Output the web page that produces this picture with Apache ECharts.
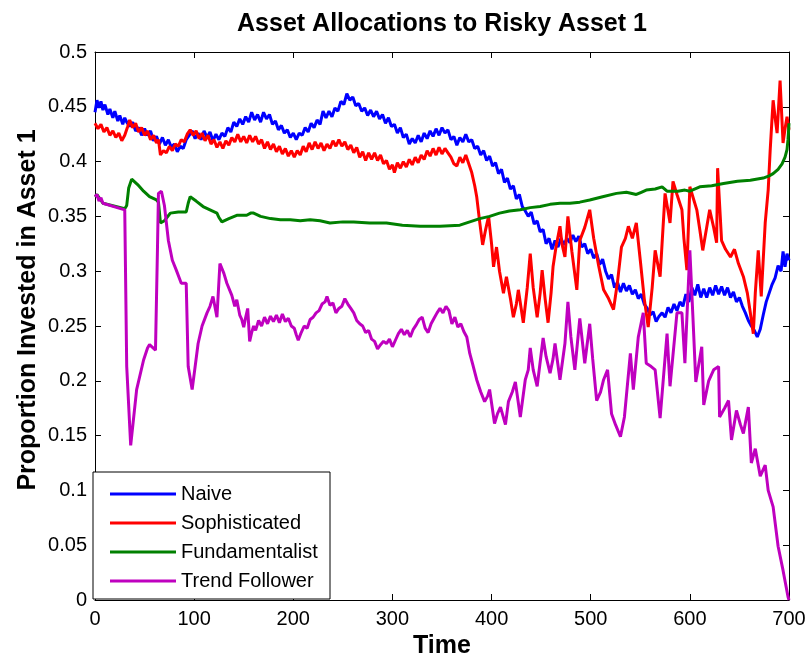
<!DOCTYPE html>
<html>
<head>
<meta charset="utf-8">
<script src="https://cdn.jsdelivr.net/npm/echarts@6/dist/echarts.min.js"></script>
<style>
html,body{margin:0;padding:0;background:#fff;}
#chart{width:808px;height:654px;}
</style>
</head>
<body>
<div id="chart"></div>
<script>
const seriesNames = ['Naive', 'Sophisticated', 'Fundamentalist', 'Trend Follower'];
const xTicks = [0, 100, 200, 300, 400, 500, 600, 700];
const yTicks = [0, 0.05, 0.1, 0.15, 0.2, 0.25, 0.3, 0.35, 0.4, 0.45, 0.5];

const naive = [[0,0.445],[2,0.456],[4,0.449],[6,0.455],[8,0.447],[10,0.452],[13,0.443],[15,0.448],[18,0.44],[20,0.446],[23,0.437],[25,0.442],[28,0.434],[30,0.44],[32,0.436],[35,0.432],[38,0.436],[41,0.428],[44,0.431],[47,0.424],[50,0.43],[53,0.424],[56,0.428],[59,0.419],[62,0.423],[65,0.416],[68,0.422],[71,0.415],[74,0.42],[77,0.413],[80,0.416],[83,0.409],[86,0.414],[89,0.412],[92,0.42],[95,0.424],[98,0.428],[101,0.421],[104,0.426],[107,0.42],[110,0.428],[113,0.422],[116,0.427],[119,0.419],[122,0.425],[125,0.42],[128,0.426],[131,0.423],[134,0.431],[137,0.427],[140,0.436],[143,0.432],[146,0.439],[149,0.434],[152,0.441],[155,0.436],[158,0.445],[161,0.438],[164,0.443],[167,0.436],[170,0.445],[173,0.439],[176,0.443],[179,0.434],[182,0.437],[185,0.429],[188,0.433],[191,0.426],[194,0.429],[197,0.422],[200,0.426],[203,0.42],[206,0.426],[209,0.424],[212,0.431],[215,0.427],[218,0.435],[221,0.431],[224,0.438],[227,0.434],[230,0.446],[233,0.44],[236,0.446],[239,0.441],[242,0.449],[245,0.446],[248,0.455],[251,0.452],[254,0.462],[257,0.456],[260,0.459],[263,0.451],[266,0.453],[269,0.446],[272,0.449],[275,0.442],[278,0.447],[281,0.441],[284,0.446],[287,0.439],[290,0.443],[293,0.435],[296,0.44],[299,0.432],[302,0.434],[305,0.426],[308,0.431],[311,0.422],[314,0.425],[317,0.416],[320,0.421],[323,0.417],[326,0.424],[329,0.418],[332,0.426],[335,0.421],[338,0.428],[341,0.423],[344,0.43],[347,0.424],[350,0.431],[353,0.426],[356,0.429],[359,0.42],[362,0.423],[365,0.415],[368,0.422],[371,0.418],[374,0.425],[377,0.418],[380,0.42],[383,0.412],[386,0.414],[389,0.406],[392,0.41],[395,0.401],[398,0.405],[401,0.396],[404,0.399],[407,0.389],[410,0.393],[413,0.381],[416,0.385],[419,0.375],[422,0.378],[425,0.366],[428,0.37],[431,0.359],[434,0.355],[437,0.35],[440,0.354],[443,0.343],[446,0.346],[449,0.336],[452,0.338],[455,0.325],[458,0.33],[461,0.32],[464,0.328],[467,0.322],[470,0.33],[473,0.324],[476,0.33],[479,0.326],[482,0.333],[485,0.327],[488,0.332],[491,0.322],[494,0.325],[497,0.316],[500,0.32],[503,0.312],[506,0.316],[509,0.306],[512,0.311],[515,0.3],[518,0.293],[521,0.297],[524,0.285],[527,0.29],[530,0.281],[533,0.289],[536,0.282],[539,0.287],[542,0.279],[545,0.283],[548,0.275],[551,0.279],[554,0.27],[557,0.266],[560,0.26],[563,0.263],[566,0.254],[569,0.259],[572,0.262],[575,0.258],[578,0.267],[581,0.262],[584,0.27],[587,0.264],[590,0.272],[593,0.268],[596,0.279],[599,0.272],[602,0.285],[605,0.278],[608,0.288],[611,0.276],[614,0.284],[617,0.276],[620,0.285],[623,0.278],[626,0.287],[629,0.279],[632,0.286],[635,0.278],[638,0.285],[641,0.276],[644,0.281],[647,0.272],[650,0.276],[653,0.268],[656,0.262],[659,0.255],[662,0.25],[665,0.246],[668,0.24],[671,0.247],[674,0.26],[677,0.272],[680,0.28],[683,0.288],[686,0.294],[689,0.305],[692,0.3],[694,0.318],[696,0.304],[698,0.316],[700,0.31]];

const sophisticated = [[0,0.435],[3,0.43],[6,0.434],[9,0.427],[12,0.431],[15,0.424],[18,0.428],[21,0.422],[24,0.426],[27,0.419],[30,0.424],[33,0.432],[35,0.438],[38,0.431],[41,0.435],[44,0.427],[47,0.431],[50,0.424],[53,0.428],[56,0.42],[59,0.424],[62,0.417],[64,0.42],[66,0.406],[69,0.41],[72,0.408],[75,0.414],[78,0.41],[81,0.416],[84,0.414],[87,0.42],[90,0.418],[93,0.425],[96,0.429],[99,0.424],[102,0.428],[105,0.421],[108,0.426],[111,0.419],[114,0.424],[117,0.416],[120,0.42],[123,0.413],[126,0.418],[129,0.412],[132,0.419],[135,0.415],[138,0.422],[141,0.418],[144,0.425],[147,0.418],[150,0.423],[153,0.417],[156,0.424],[159,0.418],[162,0.423],[165,0.416],[168,0.42],[171,0.412],[174,0.418],[177,0.411],[180,0.416],[183,0.409],[186,0.414],[189,0.407],[192,0.412],[195,0.405],[198,0.41],[201,0.404],[204,0.41],[207,0.406],[210,0.414],[213,0.409],[216,0.417],[219,0.411],[222,0.418],[225,0.412],[228,0.417],[231,0.41],[234,0.416],[237,0.412],[240,0.419],[243,0.414],[246,0.42],[249,0.414],[252,0.418],[255,0.411],[258,0.415],[261,0.408],[264,0.413],[267,0.404],[270,0.409],[273,0.401],[276,0.408],[279,0.402],[282,0.408],[285,0.401],[288,0.406],[291,0.398],[294,0.401],[297,0.393],[300,0.397],[302,0.39],[305,0.399],[308,0.394],[311,0.4],[314,0.395],[317,0.402],[320,0.397],[323,0.404],[326,0.399],[329,0.406],[332,0.402],[335,0.41],[338,0.405],[341,0.412],[344,0.406],[347,0.413],[350,0.407],[353,0.412],[356,0.408],[359,0.404],[362,0.398],[365,0.396],[368,0.404],[371,0.399],[374,0.406],[377,0.398],[380,0.39],[383,0.378],[385,0.368],[388,0.345],[391,0.324],[394,0.338],[397,0.35],[400,0.325],[402,0.304],[405,0.322],[408,0.3],[412,0.28],[415,0.295],[419,0.275],[422,0.258],[425,0.27],[427,0.283],[430,0.265],[432,0.253],[436,0.285],[439,0.316],[442,0.285],[446,0.258],[449,0.28],[451,0.301],[454,0.275],[457,0.253],[460,0.28],[462,0.304],[465,0.322],[469,0.341],[471,0.325],[474,0.313],[477,0.35],[481,0.318],[486,0.283],[489,0.328],[494,0.34],[499,0.356],[503,0.33],[508,0.305],[513,0.283],[518,0.275],[523,0.265],[527,0.29],[531,0.322],[535,0.33],[538,0.341],[542,0.33],[546,0.344],[550,0.31],[554,0.275],[558,0.249],[562,0.285],[565,0.319],[570,0.295],[575,0.371],[578,0.355],[580,0.344],[583,0.382],[587,0.37],[592,0.356],[594,0.33],[597,0.301],[600,0.377],[604,0.365],[607,0.356],[610,0.338],[613,0.319],[617,0.34],[620,0.356],[624,0.34],[627,0.326],[628,0.394],[632,0.328],[636,0.32],[641,0.313],[645,0.32],[649,0.307],[654,0.295],[658,0.28],[661,0.262],[664,0.243],[666,0.28],[669,0.319],[672,0.277],[676,0.344],[679,0.374],[681,0.41],[683,0.441],[684,0.456],[686,0.44],[688,0.426],[691,0.474],[694,0.417],[696,0.43],[698,0.441],[700,0.429]];

const fundamentalist = [[0,0.368],[2,0.37],[8,0.362],[30,0.357],[32,0.36],[34,0.376],[37,0.384],[43,0.379],[49,0.373],[55,0.368],[62,0.365],[64,0.363],[66,0.344],[70,0.346],[76,0.353],[84,0.354],[92,0.354],[94,0.362],[96,0.368],[102,0.364],[109,0.359],[116,0.356],[123,0.353],[125,0.349],[128,0.345],[135,0.348],[143,0.351],[153,0.351],[157,0.353],[160,0.353],[167,0.35],[177,0.348],[187,0.347],[197,0.347],[207,0.346],[217,0.347],[227,0.346],[237,0.344],[250,0.345],[261,0.345],[277,0.344],[294,0.344],[310,0.342],[328,0.341],[348,0.341],[368,0.342],[378,0.345],[388,0.348],[398,0.35],[408,0.353],[418,0.355],[429,0.356],[439,0.358],[449,0.359],[459,0.361],[469,0.362],[479,0.362],[489,0.363],[499,0.365],[512,0.368],[526,0.371],[536,0.372],[546,0.37],[551,0.372],[556,0.374],[565,0.375],[572,0.377],[577,0.373],[588,0.373],[595,0.374],[600,0.373],[610,0.377],[622,0.378],[634,0.38],[648,0.382],[661,0.383],[674,0.385],[680,0.387],[684,0.389],[689,0.393],[693,0.398],[696,0.404],[698,0.411],[699,0.42],[700,0.435]];

const trendFollower = [[0,0.368],[2,0.37],[4,0.364],[6,0.367],[8,0.362],[30,0.356],[32,0.213],[36,0.141],[42,0.192],[49,0.219],[53,0.23],[55,0.233],[61,0.228],[63,0.32],[64,0.371],[67,0.373],[70,0.36],[74,0.328],[78,0.31],[82,0.301],[87,0.289],[92,0.289],[94,0.213],[98,0.192],[104,0.234],[108,0.25],[113,0.262],[116,0.268],[119,0.277],[123,0.258],[126,0.307],[130,0.298],[133,0.289],[138,0.278],[141,0.268],[143,0.274],[146,0.26],[148,0.256],[150,0.249],[152,0.258],[154,0.266],[156,0.236],[158,0.244],[160,0.25],[162,0.246],[165,0.255],[168,0.25],[171,0.258],[174,0.252],[177,0.259],[180,0.254],[183,0.26],[186,0.253],[189,0.261],[192,0.254],[195,0.257],[198,0.25],[201,0.248],[203,0.242],[205,0.237],[208,0.244],[211,0.25],[214,0.248],[217,0.256],[220,0.258],[223,0.262],[226,0.264],[229,0.27],[232,0.272],[234,0.277],[237,0.269],[240,0.271],[243,0.262],[246,0.266],[249,0.268],[252,0.275],[255,0.27],[258,0.266],[261,0.262],[264,0.255],[267,0.252],[270,0.25],[273,0.244],[276,0.246],[279,0.238],[282,0.236],[285,0.229],[288,0.233],[291,0.236],[294,0.234],[297,0.238],[300,0.231],[303,0.237],[306,0.243],[309,0.247],[312,0.242],[315,0.246],[318,0.24],[321,0.247],[324,0.251],[327,0.256],[330,0.258],[333,0.248],[336,0.244],[339,0.252],[342,0.257],[345,0.262],[348,0.266],[351,0.262],[354,0.268],[357,0.264],[360,0.252],[363,0.258],[366,0.249],[369,0.252],[372,0.245],[375,0.24],[378,0.225],[381,0.215],[385,0.201],[389,0.19],[393,0.181],[396,0.186],[398,0.192],[403,0.161],[406,0.17],[409,0.176],[414,0.16],[417,0.181],[421,0.19],[424,0.199],[429,0.167],[434,0.201],[437,0.21],[439,0.23],[442,0.21],[446,0.195],[452,0.239],[455,0.222],[459,0.207],[462,0.22],[464,0.234],[469,0.201],[474,0.234],[477,0.272],[480,0.24],[484,0.21],[489,0.257],[494,0.216],[499,0.252],[502,0.22],[506,0.182],[510,0.19],[513,0.201],[517,0.21],[521,0.17],[525,0.16],[530,0.149],[534,0.167],[540,0.225],[543,0.192],[548,0.24],[553,0.262],[556,0.216],[561,0.213],[565,0.21],[570,0.166],[577,0.243],[580,0.195],[587,0.262],[592,0.262],[595,0.216],[600,0.319],[603,0.26],[606,0.199],[612,0.231],[614,0.178],[619,0.2],[624,0.21],[629,0.213],[630,0.167],[635,0.175],[639,0.182],[642,0.146],[647,0.173],[651,0.16],[654,0.152],[659,0.176],[662,0.125],[666,0.138],[671,0.113],[676,0.123],[679,0.1],[684,0.085],[689,0.049],[694,0.027],[699,0.003],[700,0.0]];

const colors = ['#0000FF', '#FF0000', '#008000', '#BF00BF'];
const dataSets = [naive, sophisticated, fundamentalist, trendFollower];

const chart = echarts.init(document.getElementById('chart'), null, {renderer: 'canvas'});
const FONT = 'Liberation Sans, Arial, Helvetica, sans-serif';

const baseX = {
  type: 'value', min: 0, max: 700, interval: 100,
  axisLine: {show: true, onZero: false, lineStyle: {color: '#000', width: 1}},
  axisTick: {show: true, inside: true, length: 6, lineStyle: {color: '#000'}},
  splitLine: {show: false}
};
const baseY = {
  type: 'value', min: 0, max: 0.5, interval: 0.05,
  axisLine: {show: true, onZero: false, lineStyle: {color: '#000', width: 1}},
  axisTick: {show: true, inside: true, length: 6, lineStyle: {color: '#000'}},
  splitLine: {show: false}
};

const option = {
  backgroundColor: '#fff',
  animation: false,
  grid: {left: 95, right: 19, top: 52, bottom: 54, containLabel: false, outerBoundsMode: 'none'},
  xAxis: [
    Object.assign({}, baseX, {
      position: 'bottom',
      axisLabel: {show: true, color: '#000', fontSize: 20, fontFamily: FONT, margin: 9,
        formatter: v => String(v)},
      name: 'Time', nameLocation: 'middle', nameGap: 29,
      nameTextStyle: {color: '#000', fontSize: 25, fontWeight: 'bold', fontFamily: FONT}
    }),
    Object.assign({}, baseX, {position: 'top', axisLabel: {show: false}})
  ],
  yAxis: [
    Object.assign({}, baseY, {
      position: 'left',
      axisLabel: {show: true, color: '#000', fontSize: 20, fontFamily: FONT, margin: 8,
        formatter: v => String(parseFloat(v.toFixed(2)))}
    }),
    Object.assign({}, baseY, {position: 'right', axisLabel: {show: false}})
  ],
  legend: {
    orient: 'vertical', left: 105, top: 478,
    icon: 'rect', itemWidth: 66, itemHeight: 3, itemGap: 7,
    textStyle: {color: '#000', fontSize: 20, fontFamily: FONT, lineHeight: 22},
    data: seriesNames, z: 10
  },
  graphic: [
    {type: 'rect', z: 5, shape: {x: 93, y: 472, width: 237, height: 127},
      style: {fill: '#fff', stroke: '#000', lineWidth: 1}},
    {type: 'text', z: 10, x: 442, y: 24,
      style: {text: 'Asset Allocations to Risky Asset 1', fill: '#000', align: 'center', verticalAlign: 'middle',
        font: 'bold 25px ' + FONT}},
    {type: 'text', z: 10, x: 28, y: 310, rotation: Math.PI / 2,
      style: {text: 'Proportion Invested in Asset 1', fill: '#000', align: 'center', verticalAlign: 'middle',
        font: 'bold 25px ' + FONT}}
  ],
  series: seriesNames.map((n, i) => ({
    name: n, type: 'line', data: dataSets[i], xAxisIndex: 0, yAxisIndex: 0,
    showSymbol: false, symbol: 'none', smooth: false, z: 2,
    lineStyle: {color: colors[i], width: 3},
    itemStyle: {color: colors[i]}
  }))
};
chart.setOption(option);
</script>
</body>
</html>
